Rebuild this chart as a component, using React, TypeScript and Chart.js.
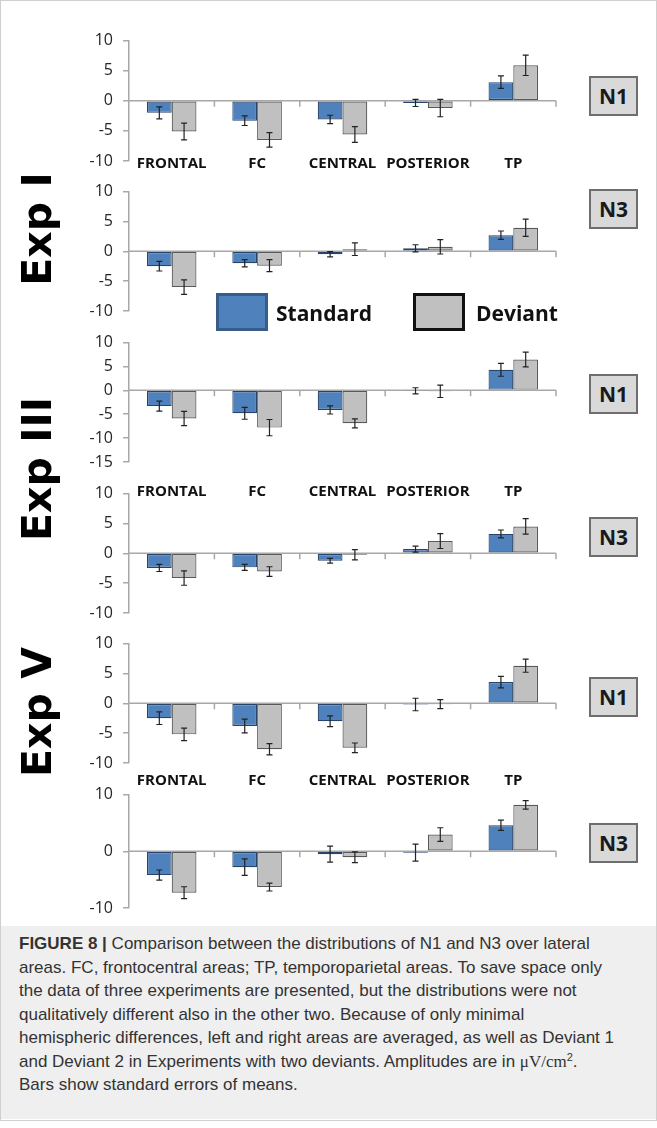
import React, { useEffect, useRef } from 'react';
import { Chart, registerables } from 'chart.js';
Chart.register(...registerables);

const categories = ['FRONTAL', 'FC', 'CENTRAL', 'POSTERIOR', 'TP'];
const seriesNames = ['Standard', 'Deviant'];

const exp1N1Standard = [-2.0, -3.3, -3.1, -0.35, 3.1];
const exp1N1StandardErr = [1.0, 0.8, 0.7, 0.6, 1.05];
const exp1N1Deviant = [-5.1, -6.5, -5.6, -1.2, 5.9];
const exp1N1DeviantErr = [1.4, 1.2, 1.3, 1.45, 1.7];

const exp1N3Standard = [-2.5, -2.0, -0.5, 0.5, 2.7];
const exp1N3StandardErr = [0.8, 0.6, 0.45, 0.6, 0.7];
const exp1N3Deviant = [-6.0, -2.4, 0.35, 0.75, 3.95];
const exp1N3DeviantErr = [1.2, 1.0, 1.05, 1.2, 1.45];

const exp3N1Standard = [-3.3, -4.8, -4.1, -0.1, 4.3];
const exp3N1StandardErr = [1.05, 1.25, 0.85, 0.65, 1.35];
const exp3N1Deviant = [-5.9, -7.8, -6.9, -0.2, 6.45];
const exp3N1DeviantErr = [1.5, 1.7, 0.95, 1.3, 1.55];

const exp3N3Standard = [-2.45, -2.35, -1.25, 0.7, 3.25];
const exp3N3StandardErr = [0.6, 0.5, 0.4, 0.5, 0.65];
const exp3N3Deviant = [-4.15, -3.05, -0.25, 2.05, 4.5];
const exp3N3DeviantErr = [1.2, 0.8, 0.85, 1.25, 1.3];

const exp5N1Standard = [-2.5, -3.8, -3.0, -0.2, 3.55];
const exp5N1StandardErr = [1.05, 1.15, 0.9, 1.05, 0.95];
const exp5N1Deviant = [-5.2, -7.7, -7.45, -0.15, 6.3];
const exp5N1DeviantErr = [1.05, 0.95, 0.8, 0.75, 1.1];

const exp5N3Standard = [-4.2, -2.8, -0.5, -0.25, 4.6];
const exp5N3StandardErr = [0.9, 1.45, 1.4, 1.5, 0.9];
const exp5N3Deviant = [-7.3, -6.3, -1.05, 2.95, 8.2];
const exp5N3DeviantErr = [1.05, 0.7, 0.95, 1.2, 0.75];

const expLabels = ['Exp I', 'Exp III', 'Exp V'];
const componentLabels = ['N1', 'N3', 'N1', 'N3', 'N1', 'N3'];

const BLUE = '#4f81bd';
const BLUE_BORDER = '#27446b';
const GRAY = '#c0c0c0';
const GRAY_BORDER = '#585858';
const AXIS = '#a8a8a8';

type PanelCfg = {
  std: number[]; stdErr: number[]; dev: number[]; devErr: number[];
  min: number; max: number; step: number;
  plotTop: number; plotBottom: number; labelOffset: number | null;
  boxTop: number; comp: string;
};

const panels: PanelCfg[] = [
  { std: exp1N1Standard, stdErr: exp1N1StandardErr, dev: exp1N1Deviant, devErr: exp1N1DeviantErr, min: -10, max: 10, step: 5, plotTop: 33, plotBottom: 161, labelOffset: 3, boxTop: 76, comp: componentLabels[0] },
  { std: exp1N3Standard, stdErr: exp1N3StandardErr, dev: exp1N3Deviant, devErr: exp1N3DeviantErr, min: -10, max: 10, step: 5, plotTop: 184, plotBottom: 311, labelOffset: null, boxTop: 189, comp: componentLabels[1] },
  { std: exp3N1Standard, stdErr: exp3N1StandardErr, dev: exp3N1Deviant, devErr: exp3N1DeviantErr, min: -15, max: 10, step: 5, plotTop: 335, plotBottom: 462, labelOffset: 30, boxTop: 374, comp: componentLabels[2] },
  { std: exp3N3Standard, stdErr: exp3N3StandardErr, dev: exp3N3Deviant, devErr: exp3N3DeviantErr, min: -10, max: 10, step: 5, plotTop: 486, plotBottom: 613, labelOffset: null, boxTop: 517, comp: componentLabels[3] },
  { std: exp5N1Standard, stdErr: exp5N1StandardErr, dev: exp5N1Deviant, devErr: exp5N1DeviantErr, min: -10, max: 10, step: 5, plotTop: 636, plotBottom: 763, labelOffset: 18, boxTop: 677, comp: componentLabels[4] },
  { std: exp5N3Standard, stdErr: exp5N3StandardErr, dev: exp5N3Deviant, devErr: exp5N3DeviantErr, min: -10, max: 10, step: 10, plotTop: 787, plotBottom: 908, labelOffset: null, boxTop: 823, comp: componentLabels[5] },
];

const PAD_TOP = 12;
const PAD_BOTTOM = 42;
const CANVAS_W = 560;

function Panel({ cfg }: { cfg: PanelCfg }) {
  const ref = useRef<HTMLCanvasElement | null>(null);
  useEffect(() => {
    if (!ref.current) return;
    const errs = [cfg.stdErr, cfg.devErr];
    const decor = {
      id: 'decor',
      beforeDatasetsDraw(chart: any) {
        const { ctx, chartArea, scales } = chart;
        const y0 = scales.y.getPixelForValue(0);
        ctx.save();
        ctx.strokeStyle = AXIS;
        ctx.lineWidth = 1.5;
        ctx.beginPath();
        ctx.moveTo(chartArea.left, y0);
        ctx.lineTo(chartArea.right, y0);
        const n = categories.length;
        for (let i = 1; i <= n; i++) {
          const x = i < n ? (scales.x.getPixelForValue(i - 1) + scales.x.getPixelForValue(i)) / 2 : chartArea.right;
          ctx.moveTo(x, y0);
          ctx.lineTo(x, y0 + 6);
        }
        ctx.stroke();
        ctx.restore();
      },
      afterDatasetsDraw(chart: any) {
        const { ctx, scales } = chart;
        ctx.save();
        ctx.strokeStyle = '#222';
        ctx.lineWidth = 1.2;
        chart.data.datasets.forEach((ds: any, di: number) => {
          const meta = chart.getDatasetMeta(di);
          meta.data.forEach((bar: any, i: number) => {
            const v = ds.data[i];
            const e = errs[di][i];
            const yt = scales.y.getPixelForValue(v + e);
            const yb = scales.y.getPixelForValue(v - e);
            ctx.beginPath();
            ctx.moveTo(bar.x, yt); ctx.lineTo(bar.x, yb);
            ctx.moveTo(bar.x - 3, yt); ctx.lineTo(bar.x + 3, yt);
            ctx.moveTo(bar.x - 3, yb); ctx.lineTo(bar.x + 3, yb);
            ctx.stroke();
          });
        });
        if (cfg.labelOffset !== null) {
          ctx.fillStyle = '#111';
          ctx.font = 'bold 15px "Open Sans"';
          ctx.textAlign = 'center';
          ctx.textBaseline = 'middle';
          const ly = chart.chartArea.bottom + cfg.labelOffset;
          categories.forEach((c, i) => {
            ctx.fillText(c, scales.x.getPixelForValue(i), ly);
          });
        }
        ctx.restore();
      },
    };
    const chart = new Chart(ref.current, {
      type: 'bar',
      data: {
        labels: categories,
        datasets: [
          { label: seriesNames[0], data: cfg.std, backgroundColor: BLUE, borderColor: BLUE_BORDER, borderWidth: 1.2, borderSkipped: false, categoryPercentage: 0.58, barPercentage: 1 },
          { label: seriesNames[1], data: cfg.dev, backgroundColor: GRAY, borderColor: GRAY_BORDER, borderWidth: 1.2, borderSkipped: false, categoryPercentage: 0.58, barPercentage: 1 },
        ],
      } as any,
      options: {
        animation: false,
        responsive: false,
        maintainAspectRatio: false,
        devicePixelRatio: 1,
        layout: { padding: { top: PAD_TOP, bottom: PAD_BOTTOM, left: 0, right: 4 } },
        plugins: { legend: { display: false }, tooltip: { enabled: false } },
        scales: {
          x: { display: false },
          y: {
            min: cfg.min,
            max: cfg.max,
            afterFit: (s: any) => { s.width = 129; },
            ticks: { stepSize: cfg.step, font: { family: '"Open Sans"', size: 16 }, color: '#262626', padding: 10 },
            grid: { drawOnChartArea: false, drawTicks: true, tickLength: 6, color: AXIS, lineWidth: 1.5 },
            border: { display: true, color: AXIS, width: 1.5 },
          },
        },
      } as any,
      plugins: [decor],
    });
    return () => chart.destroy();
  }, [cfg]);
  const h = cfg.plotBottom - cfg.plotTop + PAD_TOP + PAD_BOTTOM;
  return (
    <canvas
      ref={ref}
      width={CANVAS_W}
      height={h}
      style={{ position: 'absolute', left: 0, top: cfg.plotTop - PAD_TOP, width: CANVAS_W, height: h }}
    />
  );
}

const expCenters = [229, 469, 712];

export default function App() {
  return (
    <div style={{ position: 'absolute', left: 0, top: 0, width: 657, height: 1128, background: '#fff', overflow: 'hidden' }}>
      <div style={{ position: 'absolute', left: 0, top: 0, width: 655, height: 1119, border: '1px solid #cfcfcf' }} />
      {panels.map((p, i) => <Panel key={i} cfg={p} />)}
      {panels.map((p, i) => (
        <div key={'b' + i} style={{ position: 'absolute', left: 589, top: p.boxTop, width: 49, height: 40, boxSizing: 'border-box', background: '#d9d9d9', border: '2px solid #6e6e6e', display: 'flex', alignItems: 'center', justifyContent: 'center', fontFamily: '"Open Sans"', fontWeight: 700, fontSize: 21, color: '#1a1a1a' }}>{p.comp}</div>
      ))}
      {expLabels.map((t, i) => (
        <div key={'e' + i} style={{ position: 'absolute', left: 37, top: expCenters[i], transform: 'translate(-50%, -50%) rotate(-90deg)', whiteSpace: 'nowrap', fontFamily: '"DejaVu Sans"', fontWeight: 700, fontSize: 41, color: '#000', lineHeight: 1 }}>{t}</div>
      ))}
      <div style={{ position: 'absolute', left: 216, top: 293, width: 52, height: 38, boxSizing: 'border-box', background: BLUE, border: '3px solid #385d8a' }} />
      <div style={{ position: 'absolute', left: 276, top: 313, transform: 'translateY(-50%)', fontFamily: '"Open Sans"', fontWeight: 700, fontSize: 21, color: '#111', whiteSpace: 'nowrap' }}>{seriesNames[0]}</div>
      <div style={{ position: 'absolute', left: 413, top: 293, width: 52, height: 38, boxSizing: 'border-box', background: GRAY, border: '3px solid #111' }} />
      <div style={{ position: 'absolute', left: 476, top: 313, transform: 'translateY(-50%)', fontFamily: '"Open Sans"', fontWeight: 700, fontSize: 21, color: '#111', whiteSpace: 'nowrap' }}>{seriesNames[1]}</div>
      <div style={{ position: 'absolute', left: 1, top: 926, width: 655, height: 193, background: '#efefef', boxSizing: 'border-box', padding: '6px 0 0 18px', fontFamily: '"Liberation Sans", Arial, sans-serif', fontSize: 17, lineHeight: '23.5px', color: '#333', whiteSpace: 'nowrap' }}>
        <b>FIGURE 8 |</b> Comparison between the distributions of N1 and N3 over lateral<br />
        areas. FC, frontocentral areas; TP, temporoparietal areas. To save space only<br />
        the data of three experiments are presented, but the distributions were not<br />
        qualitatively different also in the other two. Because of only minimal<br />
        hemispheric differences, left and right areas are averaged, as well as Deviant 1<br />
        and Deviant 2 in Experiments with two deviants. Amplitudes are in <span style={{ fontFamily: '"Liberation Serif", serif' }}>μV/cm</span><span style={{ fontSize: 11, lineHeight: 0, verticalAlign: '6px' }}>2</span>.<br />
        Bars show standard errors of means.
      </div>
    </div>
  );
}
